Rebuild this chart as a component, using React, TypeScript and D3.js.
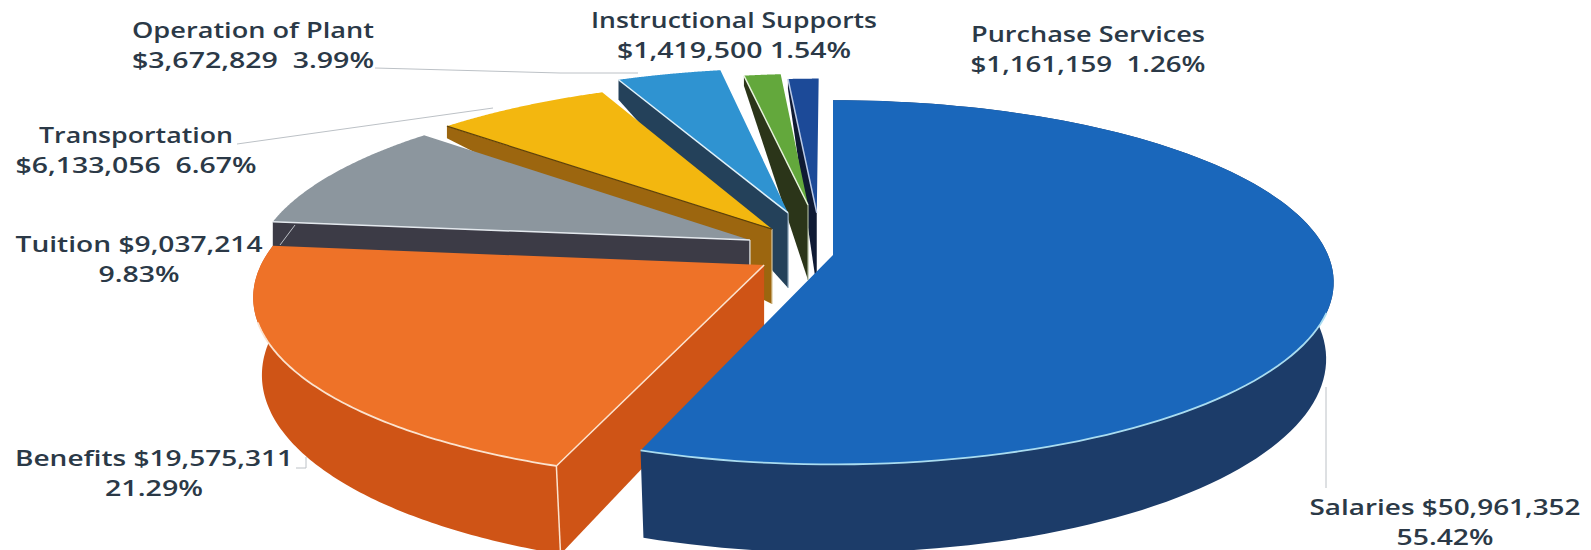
import React from "react";
import * as d3 from "d3";

// Budget categories and amounts, in the clockwise order of the pie
const categories = ["Salaries", "Benefits", "Tuition", "Transportation", "Operation of Plant", "Instructional Supports", "Purchase Services"];
const amounts = [50961352, 19575311, 9037214, 6133056, 3672829, 1419500, 1161159];

// Slice appearance
const topColors = ["#1a67bb", "#ee7228", "#8c969e", "#f3b70f", "#2f93d1", "#63a83c", "#1c4a98"];
const sideColors = ["#1c3c69", "#cf5416", "#3c3b46", "#9c660f", "#24415a", "#2b3519", "#0f1a33"];
const edgeColors = ["#a9dcf0", "#fbe3cf", "#e4e9ee", "#5f4208", "#dff1fa", "#e6f2dc", "#b9c9e6"];
const apexEdgeColors = ["none", "none", "#e4e9ee", "#d9c79e", "#9fb6c6", "#a9b59a", "none"];

// Where each slice sits on the disk once pulled out of the pie, in disk radii
const shiftAcross = [0, -0.138, -0.17, -0.126, -0.094, -0.0527, -0.034];
const shiftAlong = [0, -0.056, 0.085, 0.149, 0.245, 0.293, 0.245];
const reach = [1, 1.008, 1, 1, 1, 0.908, 0.919];
const cornerDepth = [88, 86, 26, 12, 20, 10, 10];

// Text blocks: two lines each, with centre x, baselines and fitted widths
const labelLines = [
  { a: "Salaries $50,961,352", b: "55.42%", x: 1445, y: 515, wa: 271, wb: 97 },
  { a: "Benefits $19,575,311", b: "21.29%", x: 154, y: 466, wa: 278, wb: 98 },
  { a: "Tuition $9,037,214", b: "9.83%", x: 139, y: 252, wa: 247, wb: 81 },
  { a: "Transportation", b: "$6,133,056  6.67%", x: 136, y: 143, wa: 194, wb: 241 },
  { a: "Operation of Plant", b: "$3,672,829  3.99%", x: 253, y: 38, wa: 242, wb: 242 },
  { a: "Instructional Supports", b: "$1,419,500 1.54%", x: 734, y: 28, wa: 286, wb: 234 },
  { a: "Purchase Services", b: "$1,161,159  1.26%", x: 1088, y: 42, wa: 234, wb: 235 },
];

const leaders: [number, number][][] = [
  [[1326, 387], [1326, 488]],
  [[296, 468], [306, 468], [306, 457]],
  [[280, 245], [295, 225]],
  [[237, 144], [493, 108]],
  [[375, 68], [560, 73], [638, 73]],
];

// Perspective projection of the tilted disk
const originX = 833;
const originY = 255;
const radiusX = 495;
const radiusY = 178;
const tilt = 0.15;
const extrude = 75;
const baseScale = 0.985;
const apexDepth = 75;

type Pt = [number, number];

function project(u: number, v: number): Pt {
  const w = 1 + tilt * v;
  return [originX + (radiusX * u) / w, originY - (radiusY * v) / w];
}

function projectBase(u: number, v: number): Pt {
  const w = 1 + tilt * v;
  const [x, y] = project(u, v);
  return [originX + (x - originX) * baseScale, y + extrude / w];
}

const path = d3.line<Pt>().x((d) => d[0]).y((d) => d[1]);

const arcs = d3
  .pie<number>()
  .sort(null)
  .startAngle(0)
  .endAngle(2 * Math.PI)(amounts);

function sliceShapes(i: number) {
  const { startAngle, endAngle } = arcs[i];
  const cu = shiftAcross[i];
  const cv = shiftAlong[i];
  const r = reach[i];
  const angles = d3.range(0, 121).map((k) => startAngle + ((endAngle - startAngle) * k) / 120);
  const rimDisk = angles.map((a): Pt => [cu + r * Math.sin(a), cv + r * Math.cos(a)]);
  const rim = rimDisk.map(([u, v]) => project(u, v));
  const apex = project(cu, cv);
  const corner = rim[0];

  const top = path([apex, ...rim])! + "Z";
  const cutBottomApex: Pt = [apex[0], apex[1] + apexDepth];
  const isFront = i < 2;
  const cornerBottom: Pt = isFront
    ? projectBase(rimDisk[0][0], rimDisk[0][1])
    : [corner[0], corner[1] + cornerDepth[i]];
  const cut = path([apex, corner, cornerBottom, cutBottomApex])! + "Z";

  const base = rimDisk.map(([u, v]) => projectBase(u, v));
  const side = isFront ? path([...rim, ...base.slice().reverse()])! + "Z" : null;
  const frontRim = rim.filter((_, k) => Math.cos(angles[k]) < -0.3);

  return { top, cut, side, apex, corner, cornerBottom, cutBottomApex, frontRim, isFront };
}

// Painted from the back of the pie towards the viewer
const paintOrder = [6, 5, 4, 3, 2, 1, 0];

export default function App() {
  return (
    <svg
      width={1591}
      height={550}
      viewBox="0 0 1591 550"
      style={{ position: "absolute", left: 0, top: 0, background: "#ffffff" }}
    >
      {paintOrder.map((i) => {
        const s = sliceShapes(i);
        return (
          <g key={categories[i]}>
            <path d={s.cut} fill={sideColors[i]} />
            <path d={path([s.apex, s.cutBottomApex])!} fill="none" stroke={apexEdgeColors[i]} strokeWidth={1.2} />
            {s.side && <path d={s.side} fill={sideColors[i]} />}
            <path d={s.top} fill={topColors[i]} />
            <path
              d={path([s.apex, s.corner])!}
              fill="none"
              stroke={i === 0 ? "none" : edgeColors[i]}
              strokeWidth={i === 3 ? 1.2 : 1.5}
            />
            {s.isFront && (
              <path d={path(s.frontRim)!} fill="none" stroke={edgeColors[i]} strokeWidth={1.8} />
            )}
            {i === 1 && (
              <path d={path([s.corner, s.cornerBottom])!} fill="none" stroke={edgeColors[i]} strokeWidth={1.5} />
            )}
          </g>
        );
      })}
      {leaders.map((pts, i) => (
        <path key={i} d={path(pts as Pt[])!} fill="none" stroke="#bcc1c6" strokeWidth={1} />
      ))}
      <g fontFamily="'Open Sans', sans-serif" fontWeight={600} fontSize={22} fill="#2b3947" textAnchor="middle">
        {labelLines.map((l) => (
          <g key={l.a}>
            <text x={l.x} y={l.y} textLength={l.wa} lengthAdjust="spacingAndGlyphs" xmlSpace="preserve">{l.a}</text>
            <text x={l.x} y={l.y + 30} textLength={l.wb} lengthAdjust="spacingAndGlyphs" xmlSpace="preserve">{l.b}</text>
          </g>
        ))}
      </g>
    </svg>
  );
}
